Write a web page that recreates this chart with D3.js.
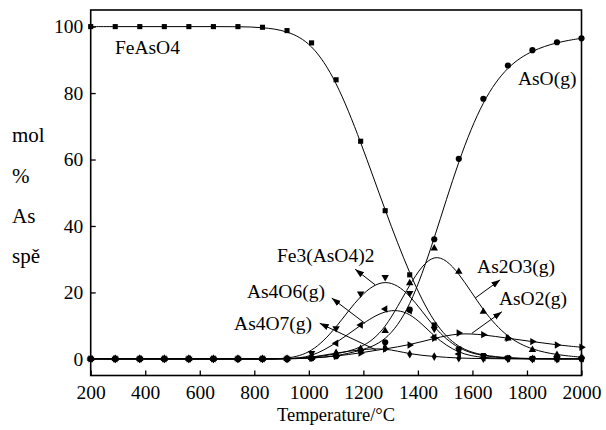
<!DOCTYPE html>
<html><head><meta charset="utf-8">
<script src="https://cdn.jsdelivr.net/npm/d3@7"></script>
<style>
body{margin:0;background:#fff;}
</style></head>
<body><svg id="c" width="606" height="430"></svg>
<script>
const temps = [200,290,380,470,560,650,740,830,920,1010,1100,1190,1280,1370,1460,1550,1640,1730,1820,1910,2000];
const FeAsO4 = [100,100,100,100,100,100,100,99.8,98.8,95.1,84.0,65.5,44.6,25.3,10.2,3.0,1.0,0.3,0.1,0,0];
const Fe3AsO42 = [0,0,0,0,0,0,0,0,0,1.7,9.2,19.6,24.6,19.8,9.0,2.7,0.8,0.2,0,0,0];
const As4O6 = [0,0,0,0,0,0,0,0,0,0.5,4.7,10.2,15.0,14.5,6.5,1.5,0.3,0.1,0,0,0];
const As4O7 = [0,0,0,0,0,0,0,0,0,0.4,1.8,2.8,3.3,1.4,0.7,0.2,0.1,0,0,0,0];
const As2O3 = [0,0,0,0,0,0,0,0,0,0.3,1.5,3.0,8.4,22.8,33.3,26.3,14.2,6.2,2.7,1.2,0.5];
const AsO2 = [0,0,0,0,0,0,0,0,0,0.2,0.8,1.8,3.0,4.2,6.2,7.8,7.3,6.2,5.2,4.2,3.5];
const AsO = [0,0,0,0,0,0,0,0,0,0.2,0.8,2.5,5.0,14.8,36.0,60.2,78.3,88.3,92.9,95.3,96.5];
const xTicks = [200,400,600,800,1000,1200,1400,1600,1800,2000];
const yTicks = [0,20,40,60,80,100];
const yLabelLines = ["mol","%","As","spě"];
const xLabel = "Temperature/°C";

const FONT = "'Liberation Serif', 'Times New Roman', Tinos, 'DejaVu Serif', serif";

const series = [
  {name:"FeAsO4", values:FeAsO4, sym:d3.symbolSquare, rot:0, size:26},
  {name:"Fe3(AsO4)2", values:Fe3AsO42, sym:d3.symbolTriangle, rot:180, size:24},
  {name:"As4O6(g)", values:As4O6, sym:d3.symbolTriangle, rot:-90, size:24},
  {name:"As4O7(g)", values:As4O7, sym:d3.symbolDiamond, rot:0, size:22},
  {name:"As2O3(g)", values:As2O3, sym:d3.symbolTriangle, rot:0, size:24},
  {name:"AsO2(g)", values:AsO2, sym:d3.symbolTriangle, rot:90, size:24},
  {name:"AsO(g)", values:AsO, sym:d3.symbolCircle, rot:0, size:30}
];

const svg = d3.select("#c");
const x = d3.scaleLinear().domain([200,2000]).range([90.7,581.5]);
const y = d3.scaleLinear().domain([-5,105]).range([375.5,10]);

const defs = svg.append("defs");
defs.append("marker").attr("id","ah").attr("viewBox","0 0 10 10").attr("refX",10).attr("refY",5)
  .attr("markerWidth",9).attr("markerHeight",9).attr("markerUnits","userSpaceOnUse").attr("orient","auto")
  .append("path").attr("d","M0,1.5 L10,5 L0,8.5 Z").attr("fill","#000");

// axes
const xAxis = d3.axisBottom(x).tickValues(xTicks).tickSizeInner(-5).tickSizeOuter(0).tickFormat(d3.format("d"));
const gx = svg.append("g").attr("transform",`translate(0,${y.range()[0]})`).call(xAxis)
  .attr("font-family",FONT).attr("font-size",19.5);
gx.select(".domain").remove();
gx.selectAll("line").attr("stroke","#000").attr("stroke-width",1.3);
gx.selectAll("text").attr("y",23).attr("dy",null).attr("fill","#000");

const yAxis = d3.axisLeft(y).tickValues(yTicks).tickSizeInner(-5).tickSizeOuter(0);
const gy = svg.append("g").attr("transform",`translate(${x.range()[0]},0)`).call(yAxis)
  .attr("font-family",FONT).attr("font-size",19.5);
gy.select(".domain").remove();
gy.selectAll("line").attr("stroke","#000").attr("stroke-width",1.3);
gy.selectAll("text").attr("x",-7.5).attr("dy",null).attr("y",6.3).attr("fill","#000");

svg.append("rect").attr("x",x.range()[0]).attr("y",y.range()[1])
  .attr("width",x.range()[1]-x.range()[0]).attr("height",y.range()[0]-y.range()[1])
  .attr("fill","none").attr("stroke","#000").attr("stroke-width",1.6);

// lines
const line = d3.line().x((d,i)=>x(temps[i])).y(d=>y(d)).curve(d3.curveBasis);
series.forEach(s=>{
  svg.append("path").attr("d",line(s.values)).attr("fill","none").attr("stroke","#000").attr("stroke-width",1);
});
// markers
series.forEach(s=>{
  const sym = d3.symbol().type(s.sym).size(s.size);
  svg.append("g").selectAll("path").data(s.values).join("path")
    .attr("d",sym)
    .attr("transform",(d,i)=>`translate(${x(temps[i])},${y(d)}) rotate(${s.rot})`)
    .attr("fill","#000");
});

// annotation arrows (data coords: from curve to label)
const arrows = [
  [1243,22.3,1170,27.0],
  [1206,10.7,1084,18.3],
  [1246,2.7,1040,10.7],
  [1610,18.3,1702,23.8],
  [1598,7.7,1708,14.2]
];
arrows.forEach(a=>{
  svg.append("line").attr("x1",x(a[0])).attr("y1",y(a[1])).attr("x2",x(a[2])).attr("y2",y(a[3]))
    .attr("stroke","#000").attr("stroke-width",1).attr("marker-end","url(#ah)");
});
// label texts (data coords of left/baseline)
const annTexts = ["FeAsO4","AsO(g)","Fe3(AsO4)2","As4O6(g)","As4O7(g)","As2O3(g)","AsO2(g)"];
const annT = [289,1767,883,773,726,1617,1697];
const annV = [91.8,82.4,29.2,18.3,8.7,25.9,16.2];
annTexts.forEach((t,i)=>{
  svg.append("text").attr("x",x(annT[i])).attr("y",y(annV[i])).text(t)
    .attr("font-family",FONT).attr("font-size",19.5).attr("fill","#000");
});

// axis labels
const yLabY = [142,183,223,263];
yLabelLines.forEach((t,i)=>{
  svg.append("text").attr("x",12).attr("y",yLabY[i]).text(t)
    .attr("font-family",FONT).attr("font-size",21).attr("fill","#000");
});
svg.append("text").attr("x",336).attr("y",421).attr("text-anchor","middle").text(xLabel)
  .attr("font-family",FONT).attr("font-size",18.5).attr("fill","#000");
</script></body></html>
